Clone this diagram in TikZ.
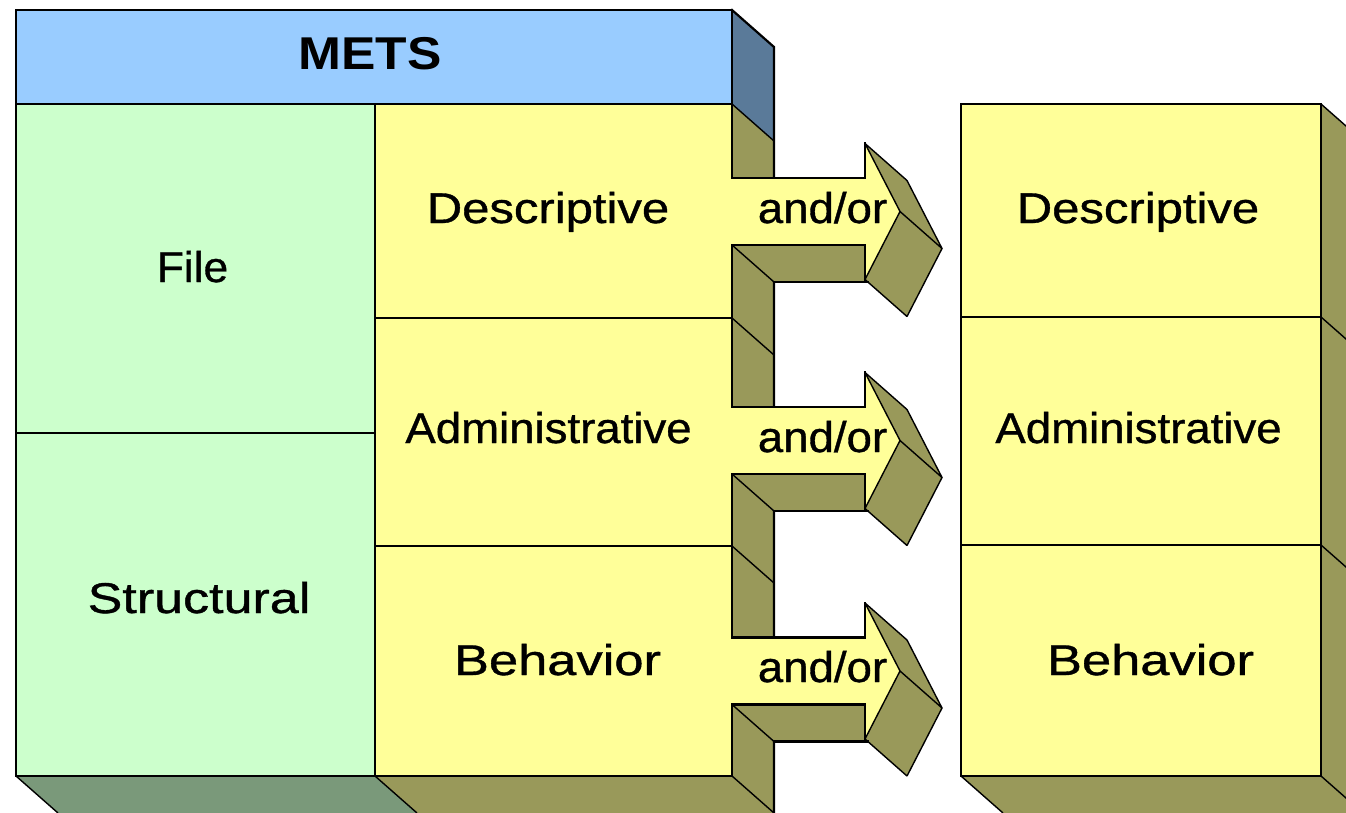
\documentclass[tikz,border=0pt]{standalone}
\usepackage{fontspec}
\setmainfont{Liberation Sans}
\newfontfamily\medsans{Liberation Sans}[FakeBold=0.8]
\definecolor{hdrblue}{HTML}{99CCFF}
\definecolor{sideblue}{HTML}{5A7A99}
\definecolor{mint}{HTML}{CCFFCC}
\definecolor{mintdark}{HTML}{7A997A}
\definecolor{paleyellow}{HTML}{FFFF99}
\definecolor{olivebox}{HTML}{99995A}
\newcommand{\wx}[2]{\scalebox{#1}[1]{#2}}
\tikzset{
  edge/.style={draw=black, line width=2.2pt, line join=miter, line cap=rect},
  slant/.style={draw=black, line width=1.4pt},
  lbl/.style={font=\fontsize{43}{43}\medsans, inner sep=0pt, anchor=base},
  titlelbl/.style={font=\fontsize{46}{46}\selectfont\bfseries, inner sep=0pt, anchor=base},
}
\begin{document}
\begin{tikzpicture}[x=1pt,y=-1pt]
\useasboundingbox (0,0) rectangle (1346,813);
\clip (0,0) rectangle (1346,813);
% ---------- main block: depth faces
\fill[sideblue] (732,10) -- (774,47) -- (774,141) -- (732,104) -- cycle;
\fill[olivebox] (732,104) -- (774,141) -- (774,830) -- (732,776) -- cycle;
\fill[mintdark] (16,776) -- (375,776) -- (417,813) -- (58,813) -- cycle;
\fill[olivebox] (375,776) -- (732,776) -- (774,813) -- (417,813) -- cycle;
\draw[edge] (732,10) -- (774,47) -- (774,830);
\draw[slant] (732,104) -- (774,141) (732,318) -- (774,355) (732,546) -- (774,583)
  (732,776) -- (774,813) (16,776) -- (58,813) (375,776) -- (417,813);
% ---------- main block: front faces
\fill[hdrblue] (16,10) rectangle (732,104);
\fill[mint] (16,104) rectangle (375,776);
\fill[paleyellow] (375,104) rectangle (732,776);
\draw[edge] (16,10) rectangle (732,776);
\draw[edge] (16,104) -- (732,104) (375,104) -- (375,776) (16,433) -- (375,433)
  (375,318) -- (732,318) (375,546) -- (732,546);
% ---------- arrows
\foreach \c in {211.5,440.5,671} {
  \fill[olivebox] (732,\c-33.5) -- (865,\c-33.5) -- (865,\c-68) -- (907,\c-31)
    -- (942,\c+37) -- (907,\c+105) -- (867.8,\c+70.5) -- (774,\c+70.5)
    -- (732,\c+33.5) -- cycle;
  \fill[paleyellow] (731,\c-33.5) -- (865,\c-33.5) -- (865,\c-68) -- (900,\c)
    -- (865,\c+68) -- (865,\c+33.5) -- (731,\c+33.5) -- cycle;
  \draw[slant] (774,\c+70.5) -- (732,\c+33.5) (865,\c-68) -- (907,\c-31)
    (900,\c) -- (942,\c+37) (865,\c+68) -- (907,\c+105)
    (865,\c-68) -- (900,\c) -- (865,\c+68)
    (907,\c-31) -- (942,\c+37) -- (907,\c+105);
  \draw[edge] (774,\c+70.5) -- (867.8,\c+70.5);
  \draw[edge] (732,\c-33.5) -- (865,\c-33.5) -- (865,\c-68);
  \draw[edge] (865,\c+68) -- (865,\c+33.5) -- (732,\c+33.5);
}
% ---------- right block
\fill[olivebox] (1321,104) -- (1363,141) -- (1363,813) -- (1321,776) -- cycle;
\fill[olivebox] (961,776) -- (1321,776) -- (1363,813) -- (1003,813) -- cycle;
\draw[slant] (1321,104) -- (1363,141) (1321,317) -- (1363,354) (1321,545) -- (1363,582)
  (1321,776) -- (1363,813) (961,776) -- (1003,813);
\fill[paleyellow] (961,104) rectangle (1321,776);
\draw[edge] (961,104) rectangle (1321,776);
\draw[edge] (961,317) -- (1321,317) (961,545) -- (1321,545);
% ---------- labels
\node[titlelbl] (mets) at (370,70) {\wx{1.12}{METS}};
\node[lbl] (file) at (192.5,282) {\wx{1.03}{File}};
\node[lbl] (structural) at (199,613) {\wx{1.21}{Structural}};
\node[lbl] (desc) at (548,223) {\wx{1.14}{Descriptive}};
\node[lbl] (admin) at (548.5,443) {\wx{1.06}{Administrative}};
\node[lbl] (behav) at (557.5,675) {\wx{1.22}{Behavior}};
\node[lbl] (andor1) at (822.5,223) {\wx{1.06}{and/or}};
\node[lbl] (andor2) at (822.5,452) {\wx{1.06}{and/or}};
\node[lbl] (andor3) at (822.5,682) {\wx{1.06}{and/or}};
\node[lbl] (rdesc) at (1138,223) {\wx{1.14}{Descriptive}};
\node[lbl] (radmin) at (1138.5,443) {\wx{1.06}{Administrative}};
\node[lbl] (rbehav) at (1150.5,675) {\wx{1.22}{Behavior}};
\end{tikzpicture}
\end{document}
